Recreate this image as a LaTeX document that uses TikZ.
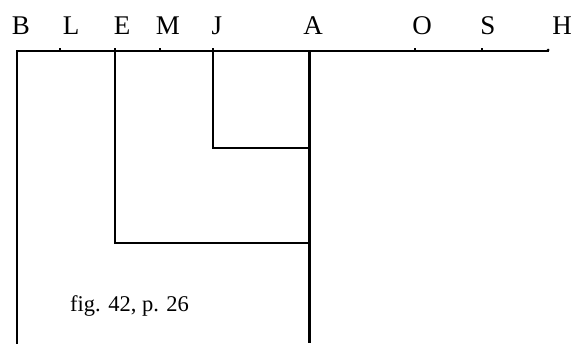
\documentclass[tikz,border=0pt]{standalone}
\usepackage{fontspec}
\setmainfont{Liberation Serif}
\begin{document}
\begin{tikzpicture}[x=1pt,y=-1pt,
  letter/.style={font=\fontsize{27}{28}\selectfont, anchor=base, inner sep=0pt},
  thin/.style={line width=2pt, line cap=rect},
  thick/.style={line width=2.8pt},
  tick/.style={line width=1.4pt},
  caption/.style={font=\fontsize{22.5}{24}\selectfont, anchor=base west, inner sep=0pt}]
\useasboundingbox (0,0) rectangle (573,343);
% letters
\node[letter] (B) at (21,34) {B};
\node[letter] (L) at (71,34) {L};
\node[letter] (E) at (122,34) {E};
\node[letter] (M) at (168,34) {M};
\node[letter] (J) at (217,34) {J};
\node[letter] (A) at (313,34) {A};
\node[letter] (O) at (422,34) {O};
\node[letter] (S) at (488,34) {S};
\node[letter] (H) at (562,34) {H};
% coordinates
\coordinate (b0) at (17,51);
\coordinate (h0) at (548,51);
\coordinate (tl) at (60,51);
\coordinate (te) at (115,51);
\coordinate (tm) at (160,51);
\coordinate (tj) at (213,51);
\coordinate (ta) at (309.5,51);
\coordinate (to) at (415,51);
\coordinate (ts) at (482,51);
\coordinate (bB) at (17,343);
\coordinate (bA) at (309.5,343);
\coordinate (jb) at (213,147.5);
\coordinate (ja) at (309.5,147.5);
\coordinate (eb) at (115,243);
\coordinate (ea) at (309.5,243);
% main line
\draw[thin] (bB) -- (b0) -- (h0);
\foreach \c in {tl,te,tm,tj,to,ts} \draw[tick] (\c) -- ++(0,-3.5);
\fill (h0) ++(0,-1) circle (1.5);
% boxes
\draw[thin] (te) -- (eb) -- (ea);
\draw[thin] (tj) -- (jb) -- (ja);
\draw[thick] (ta) -- (bA);
\node[caption] (cap) at (70,311) {fig. 42, p. 26};
\end{tikzpicture}
\end{document}
